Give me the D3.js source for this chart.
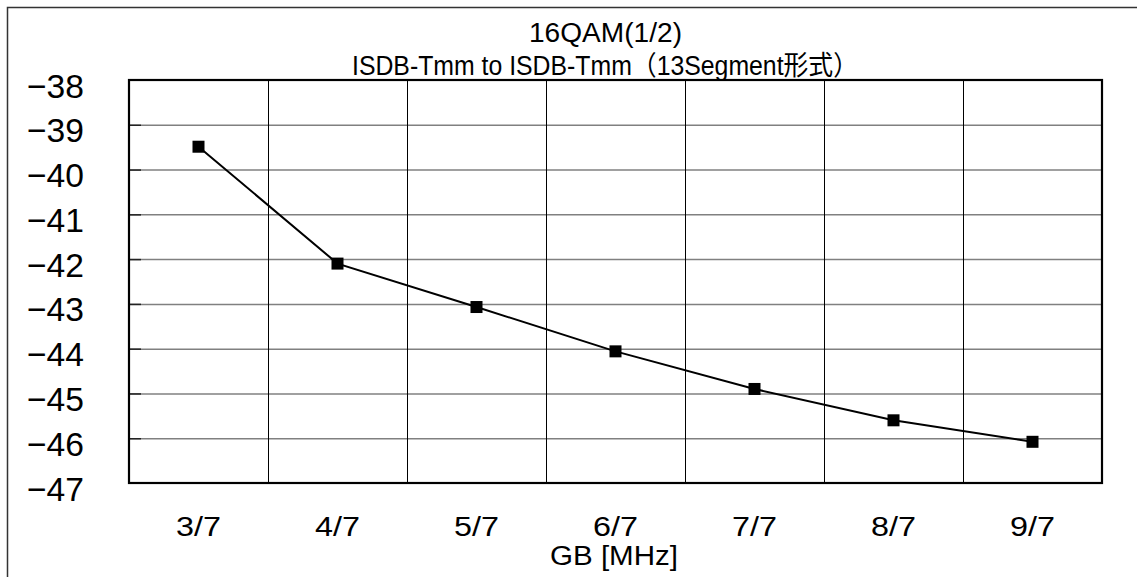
<!DOCTYPE html>
<html><head><meta charset="utf-8">
<script src="https://cdn.jsdelivr.net/npm/d3@7"></script>
<style>
html,body{margin:0;padding:0;background:#fff;}
svg{display:block;}
</style></head>
<body><svg id="c" width="1137" height="577"></svg>
<script>
const categories = ["3/7","4/7","5/7","6/7","7/7","8/7","9/7"];
const values = [-39.49, -42.1, -43.07, -44.06, -44.9, -45.6, -46.08];
const yTicks = [-38,-39,-40,-41,-42,-43,-44,-45,-46,-47];
const titleLines = ["16QAM(1/2)", "ISDB-Tmm to ISDB-Tmm（13Segment形式）"];
const xTitle = "GB [MHz]";

const svg = d3.select("#c");
const W = 1137, H = 577;
const L = 129, R = 1102, T = 80, B = 483;
const fnt = "'Liberation Sans', 'Noto Sans CJK JP', sans-serif";

svg.append("rect").attr("width", W).attr("height", H).attr("fill", "#fff");
// outer frame (top and left edges visible)
svg.append("path").attr("d", `M7.5,${H} L7.5,7.5 L${W},7.5`)
  .attr("fill","none").attr("stroke","#333").attr("stroke-width",1.5);

const x = d3.scaleBand().domain(categories).range([L, R]).padding(0);
const y = d3.scaleLinear().domain([-47, -38]).range([B, T]);

const inner = yTicks.filter(d => d > -47 && d < -38);
// horizontal grid
svg.append("g").selectAll("line").data(inner).join("line")
  .attr("x1", L).attr("x2", R).attr("y1", d => y(d) + 0.5).attr("y2", d => y(d) + 0.5)
  .attr("stroke", "#808080").attr("stroke-width", 1.5);
// inward tick marks
svg.append("g").selectAll("line").data(inner).join("line")
  .attr("x1", L).attr("x2", L + 12).attr("y1", d => y(d) + 0.5).attr("y2", d => y(d) + 0.5)
  .attr("stroke", "#222").attr("stroke-width", 1.5);
// vertical grid
svg.append("g").selectAll("line").data(categories.slice(1)).join("line")
  .attr("x1", d => Math.round(x(d)) + 0.5).attr("x2", d => Math.round(x(d)) + 0.5)
  .attr("y1", T).attr("y2", B)
  .attr("stroke", "#000").attr("stroke-width", 1);

// plot frame
svg.append("rect").attr("x", L).attr("y", T).attr("width", R - L).attr("height", B - T)
  .attr("fill", "none").attr("stroke", "#000").attr("stroke-width", 2.2);

// y axis labels
const yAxis = d3.axisLeft(y).tickValues(yTicks).tickSize(0).tickPadding(45)
  .tickFormat(d => "−" + Math.abs(d));
const yg = svg.append("g").attr("transform", `translate(${L},0)`).call(yAxis);
yg.select(".domain").remove();
yg.selectAll("text").attr("font-family", fnt).attr("font-size", 34).attr("fill", "#000")
  .attr("dy", "0.5em").attr("textLength", 57).attr("lengthAdjust", "spacingAndGlyphs");

// x axis labels
const xAxis = d3.axisBottom(x).tickSize(0).tickPadding(0);
const xg = svg.append("g").attr("transform", `translate(0,${B})`).call(xAxis);
xg.select(".domain").remove();
xg.selectAll("text").attr("font-family", fnt).attr("font-size", 27).attr("fill", "#000")
  .attr("y", 53).attr("dy", 0).attr("textLength", 45).attr("lengthAdjust", "spacingAndGlyphs");

// line
const line = d3.line().x((d, i) => x(categories[i]) + x.bandwidth() / 2).y(d => y(d));
svg.append("path").datum(values).attr("d", line)
  .attr("fill", "none").attr("stroke", "#000").attr("stroke-width", 2);
svg.append("g").selectAll("rect").data(values).join("rect")
  .attr("x", (d, i) => x(categories[i]) + x.bandwidth() / 2 - 6)
  .attr("y", d => y(d) - 6).attr("width", 12).attr("height", 12).attr("fill", "#000");

// titles
svg.append("text").attr("x", 605.5).attr("y", 41.5).attr("text-anchor", "middle")
  .attr("font-family", fnt).attr("font-size", 27).attr("fill", "#000")
  .attr("textLength", 153).attr("lengthAdjust", "spacingAndGlyphs").text(titleLines[0]);
svg.append("text").attr("x", 605).attr("y", 75).attr("text-anchor", "middle")
  .attr("font-family", fnt).attr("font-size", 27).attr("fill", "#000")
  .attr("textLength", 506).attr("lengthAdjust", "spacingAndGlyphs").text(titleLines[1]);

// x title
svg.append("text").attr("x", 614).attr("y", 565).attr("text-anchor", "middle")
  .attr("font-family", fnt).attr("font-size", 27).attr("fill", "#000")
  .attr("textLength", 128).attr("lengthAdjust", "spacingAndGlyphs").text(xTitle);
</script></body></html>
